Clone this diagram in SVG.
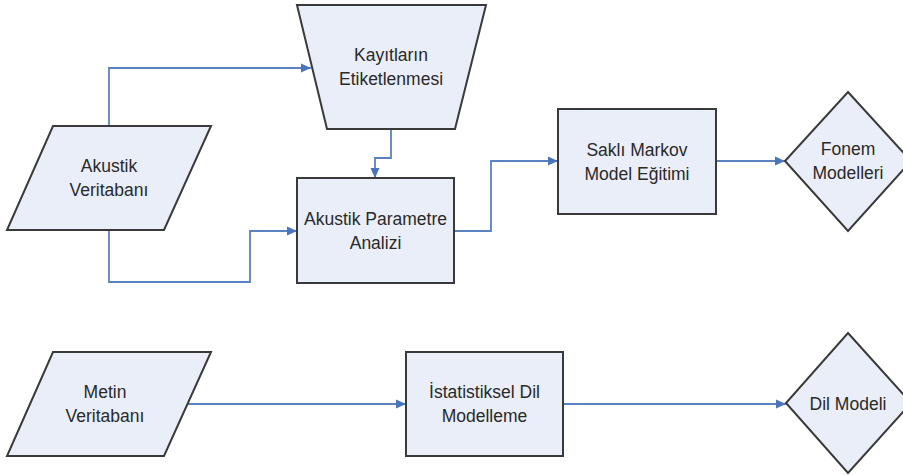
<svg xmlns="http://www.w3.org/2000/svg" width="903" height="475" viewBox="0 0 903 475">
<style>
.shape{fill:#e9eef8;stroke:#3a3a3a;stroke-width:2;stroke-linejoin:miter}
.conn{fill:none;stroke:#5a82c0;stroke-width:1.8}
text{font-family:"Liberation Sans",Arial,sans-serif;font-size:17.5px;fill:#2a2a2a;text-anchor:middle}
</style>
<defs>
<marker id="arr" markerUnits="userSpaceOnUse" markerWidth="12" markerHeight="12" viewBox="0 0 12 12" refX="11" refY="6" orient="auto">
<path d="M1,1.5 L11,6 L1,10.5 Z" fill="#4a75bd"/>
</marker>
</defs>
<rect width="903" height="475" fill="#ffffff"/>
<g id="connectors">
<path class="conn" d="M109,126 V68 H311" marker-end="url(#arr)"/>
<path class="conn" d="M109,230 V282 H250 V231 H297" marker-end="url(#arr)"/>
<path class="conn" d="M391,129 V158 H375 V178" marker-end="url(#arr)"/>
<path class="conn" d="M454,231 H491 V161 H558" marker-end="url(#arr)"/>
<path class="conn" d="M716,161 H785" marker-end="url(#arr)"/>
<path class="conn" d="M188,404 H406" marker-end="url(#arr)"/>
<path class="conn" d="M563,404 H786" marker-end="url(#arr)"/>
</g>
<g id="akustik-veritabani">
<polygon class="shape" points="53,126 211,126 164,230 7,230"/>
<text x="109" y="172">Akustik</text>
<text x="109" y="196">Veritabanı</text>
</g>
<g id="kayitlarin-etiketlenmesi">
<polygon class="shape" points="297,5 486,5 455,129 327,129"/>
<text x="391" y="61">Kayıtların</text>
<text x="391" y="85">Etiketlenmesi</text>
</g>
<g id="akustik-parametre-analizi">
<rect class="shape" x="297" y="178" width="157" height="105"/>
<text x="375.5" y="224.5">Akustik Parametre</text>
<text x="375.5" y="248.5">Analizi</text>
</g>
<g id="sakli-markov">
<rect class="shape" x="558" y="109" width="158" height="105"/>
<text x="637" y="155.5">Saklı Markov</text>
<text x="637" y="179.5">Model Eğitimi</text>
</g>
<g id="fonem-modelleri">
<polygon class="shape" points="848,92 911,161 848,231 785,161"/>
<text x="848" y="155">Fonem</text>
<text x="848" y="179">Modelleri</text>
</g>
<g id="metin-veritabani">
<polygon class="shape" points="53,352 211,352 164,456 7,456"/>
<text x="105" y="398">Metin</text>
<text x="105" y="422">Veritabanı</text>
</g>
<g id="istatistiksel-dil-modelleme">
<rect class="shape" x="406" y="352" width="157" height="104"/>
<text x="484.5" y="398">İstatistiksel Dil</text>
<text x="484.5" y="422">Modelleme</text>
</g>
<g id="dil-modeli">
<polygon class="shape" points="848,333 911,403 848,473 786,403"/>
<text x="848" y="410">Dil Modeli</text>
</g>
</svg>
